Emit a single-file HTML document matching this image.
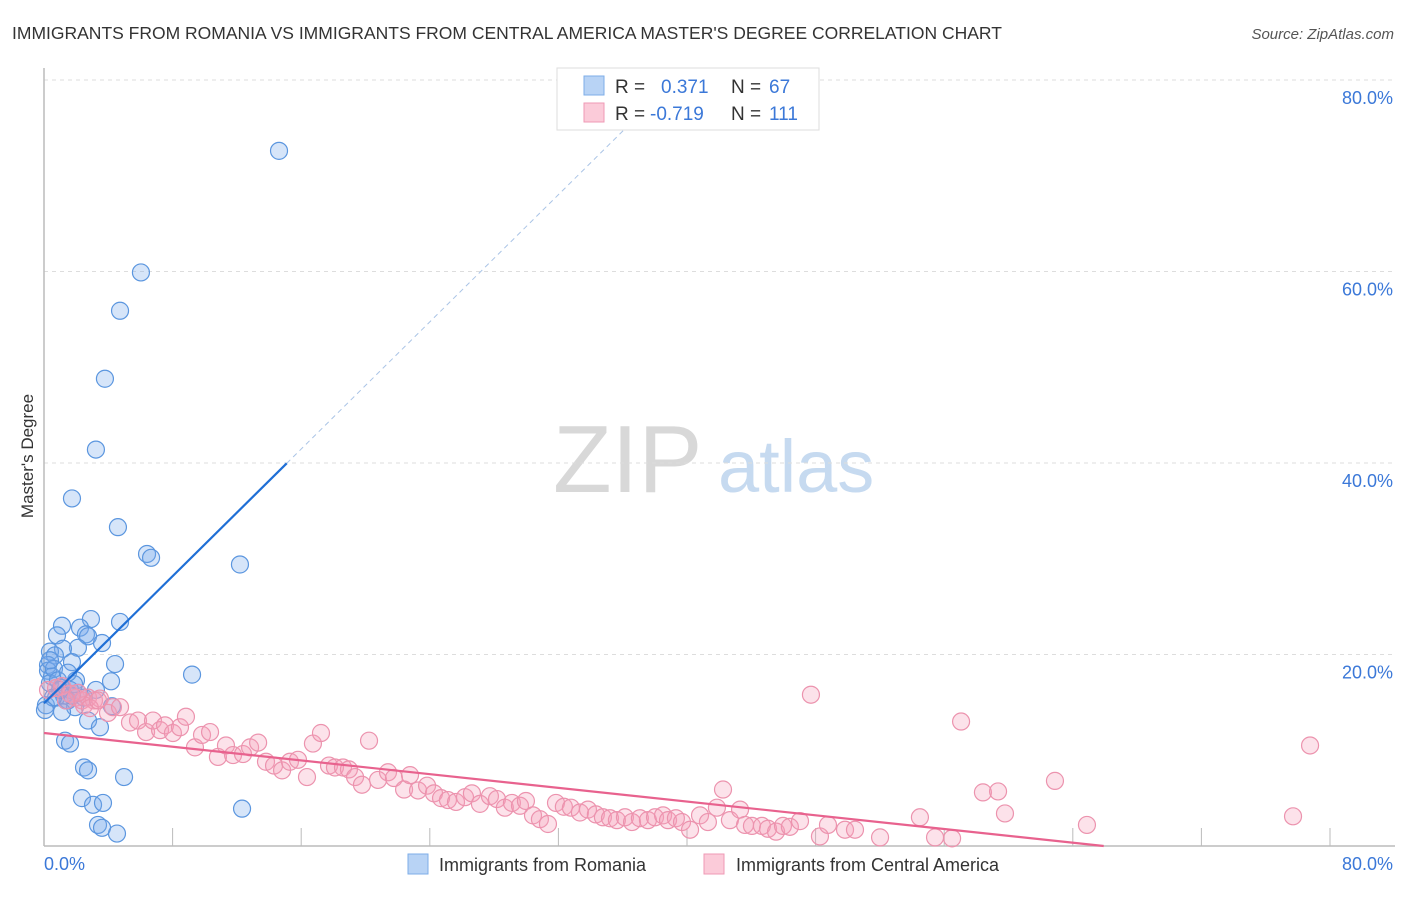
<!DOCTYPE html>
<html><head><meta charset="utf-8"><style>
body{margin:0;background:#fff;font-family:"Liberation Sans",sans-serif;}
svg text{font-family:"Liberation Sans",sans-serif;}
</style></head><body>
<svg id="chart" width="1406" height="892" xmlns="http://www.w3.org/2000/svg">
<text x="12" y="39" font-size="17.5" fill="#333">IMMIGRANTS FROM ROMANIA VS IMMIGRANTS FROM CENTRAL AMERICA MASTER'S DEGREE CORRELATION CHART</text>
<text x="1394" y="39" font-size="15" fill="#555" text-anchor="end" font-style="italic">Source: ZipAtlas.com</text>
<g>
<text x="553" y="492" font-size="96" fill="#d8d8d8" font-family="Liberation Serif,serif">ZIP</text>
<text x="718" y="492" font-size="74" fill="#c6daf0">atlas</text>
</g>
<g id="grid"></g>
<g id="axes"></g>
<text transform="translate(33,456) rotate(-90)" font-size="17" fill="#333" text-anchor="middle">Master's Degree</text>
<g id="series-blue"></g>
<g id="series-pink"></g>
<g id="trends"></g>
<g>
<rect x="557" y="68" width="262" height="62" fill="#fff" stroke="#ddd"/>
<rect x="584" y="76" width="20" height="19" fill="#b8d3f5" stroke="#7eaee8"/>
<rect x="584" y="103" width="20" height="19" fill="#fbcbd9" stroke="#ef9ab5"/>
<text x="615" y="93" font-size="19" fill="#333">R =</text>
<text x="661" y="93" font-size="19" fill="#3b78d8">0.371</text>
<text x="731" y="93" font-size="19" fill="#333">N =</text>
<text x="769" y="93" font-size="19" fill="#3b78d8">67</text>
<text x="615" y="120" font-size="19" fill="#333">R =</text>
<text x="650" y="120" font-size="19" fill="#3b78d8">-0.719</text>
<text x="731" y="120" font-size="19" fill="#333">N =</text>
<text x="769" y="120" font-size="19" fill="#3b78d8">111</text>
</g>
<g>
<rect x="408" y="854" width="20" height="20" fill="#b8d3f5" stroke="#7eaee8"/>
<text x="439" y="871" font-size="18" fill="#333">Immigrants from Romania</text>
<rect x="704" y="854" width="20" height="20" fill="#fbcbd9" stroke="#ef9ab5"/>
<text x="736" y="871" font-size="18" fill="#333">Immigrants from Central America</text>
</g>
</svg>
<script>
const yTicks=[20,40,60,80];
const yTickLabels=["20.0%","40.0%","60.0%","80.0%"];
const xTicks=[0,8,16,24,32,40,48,56,64,72,80];
const xEndLabels=["0.0%","80.0%"];
const blueX=[14.62,6.03,4.73,3.79,3.23,1.74,4.60,6.41,6.66,12.19,9.21,4.73,2.92,1.12,0.81,2.24,2.61,2.74,3.61,2.11,1.18,0.37,0.68,1.74,0.25,4.42,0.25,0.50,1.99,4.17,0.37,1.12,1.62,2.11,1.24,2.49,1.49,1.93,4.23,1.12,2.74,3.48,1.31,1.62,2.49,2.74,4.98,2.36,3.05,3.67,3.36,3.61,4.54,12.32,0.12,0.75,1.37,1.74,1.00,0.62,0.37,0.87,1.87,1.49,3.23,0.56,0.06];
const blueY=[72.6,59.9,55.9,48.8,41.4,36.3,33.3,30.5,30.1,29.4,17.9,23.4,23.7,23.0,22.0,22.8,22.1,21.9,21.2,20.7,20.6,20.3,19.9,19.2,18.9,19.0,18.3,17.7,17.3,17.2,17.0,16.5,16.3,16.0,15.7,15.5,15.2,14.5,14.6,14.0,13.1,12.4,11.0,10.7,8.2,7.9,7.2,5.0,4.3,4.5,2.2,1.9,1.3,3.9,14.7,15.5,15.2,15.7,16.3,18.5,19.4,17.3,16.9,18.1,16.3,15.5,14.2];
const pinkX=[0.25,0.75,1.12,1.62,1.99,2.36,2.74,3.11,3.48,2.49,2.11,2.86,1.37,3.98,4.29,4.73,3.36,5.35,5.85,6.35,6.78,7.22,7.53,8.02,8.46,8.83,9.39,9.83,10.33,10.82,11.32,11.76,12.38,12.82,13.32,13.81,14.31,14.81,15.30,15.80,16.36,16.73,17.23,17.73,18.10,18.60,18.97,19.35,19.78,20.22,20.78,21.40,21.77,22.40,22.77,23.27,23.83,24.26,24.70,25.13,25.63,26.19,26.62,27.12,27.74,28.18,28.67,29.11,29.61,29.98,30.42,30.85,31.35,31.85,32.34,32.78,33.34,33.84,34.33,34.77,35.21,35.64,36.14,36.58,37.07,37.57,38.01,38.51,38.82,39.31,39.69,40.19,40.81,41.30,41.86,42.24,42.67,43.30,43.61,44.04,44.66,45.04,45.54,45.97,46.40,47.03,47.71,48.27,48.77,49.83,50.45,52.01,54.49,55.43,56.49,57.05,58.41,59.35,59.78,62.89,64.88,77.70,78.76];
const pinkY=[16.3,16.5,16.7,15.9,15.5,15.2,15.5,15.2,15.4,14.7,16.0,14.4,15.2,13.9,14.5,14.5,15.2,12.9,13.1,11.9,13.1,12.1,12.6,11.8,12.4,13.5,10.3,11.6,11.9,9.3,10.5,9.5,9.6,10.3,10.8,8.8,8.4,7.9,8.8,9.0,7.2,10.7,11.8,8.4,8.2,8.2,8.0,7.2,6.4,11.0,6.9,7.7,7.1,5.9,7.4,5.8,6.3,5.5,5.0,4.8,4.6,5.1,5.5,4.4,5.2,4.9,4.0,4.5,4.2,4.7,3.2,2.8,2.3,4.5,4.1,4.0,3.5,3.8,3.3,3.0,2.9,2.7,3.0,2.5,2.9,2.7,3.0,3.2,2.7,2.9,2.5,1.7,3.2,2.5,4.0,5.9,2.7,3.8,2.2,2.1,2.1,1.8,1.5,2.1,2.0,2.6,15.8,1.0,2.2,1.7,1.7,0.9,3.0,0.9,0.8,13.0,5.6,5.7,3.4,6.8,2.2,3.1,10.5];
const blueTrend=[14.9,1.66];
const pinkTrend=[11.8,-0.179];
const blueSolidEnd=15.1;

const X0=44,XPX=1330,Y0=846,YPX=80;
const sx=v=>X0+(XPX-X0)*v/80;
const sy=v=>Y0-(Y0-YPX)*v/80;
const NS="http://www.w3.org/2000/svg";
function mk(tag,attrs,parent){const e=document.createElementNS(NS,tag);for(const k in attrs)e.setAttribute(k,attrs[k]);parent.appendChild(e);return e;}
const grid=document.getElementById('grid'),axes=document.getElementById('axes');
yTicks.forEach((t,i)=>{
 const l=mk('line',{x1:44,x2:1395,y1:sy(t),y2:sy(t),stroke:'#ddd','stroke-dasharray':'4,4'},grid);
 
 
 const tx=mk('text',{x:1393,y:sy(t)+24,'font-size':18,fill:'#3b78d8','text-anchor':'end'},axes);
 tx.textContent=yTickLabels[i];
 
 
});
const al=mk('line',{x1:44,x2:44,y1:68,y2:846,stroke:'#bbb','stroke-width':1.5},axes);


const bl=mk('line',{x1:44,x2:1395,y1:846,y2:846,stroke:'#bbb','stroke-width':1.5},axes);


xTicks.forEach(t=>{
 const l=mk('line',{x1:sx(t),x2:sx(t),y1:828,y2:846,stroke:'#bbb'},axes);
 
 
});
const xl0=mk('text',{x:44,y:870,'font-size':18,fill:'#3b78d8'},axes);xl0.textContent=xEndLabels[0];


const xl1=mk('text',{x:1393,y:870,'font-size':18,fill:'#3b78d8','text-anchor':'end'},axes);xl1.textContent=xEndLabels[1];


const gb=document.getElementById('series-blue');
blueX.forEach((x,i)=>{
 const c=mk('circle',{cx:sx(x),cy:sy(blueY[i]),r:8.5,fill:'rgba(120,170,235,0.3)',stroke:'#5b96df','stroke-width':1.2},gb);
 
 
});
const gp=document.getElementById('series-pink');
pinkX.forEach((x,i)=>{
 const c=mk('circle',{cx:sx(x),cy:sy(pinkY[i]),r:8.5,fill:'rgba(245,160,185,0.3)',stroke:'#ec93ae','stroke-width':1.2},gp);
 
 
});
const gt=document.getElementById('trends');
const bEndDash=(80-blueTrend[0])/blueTrend[1];
const t1=mk('line',{x1:sx(0),y1:sy(blueTrend[0]),x2:sx(blueSolidEnd),y2:sy(blueTrend[0]+blueTrend[1]*blueSolidEnd),stroke:'#1f6fd6','stroke-width':2.2},gt);


const t2=mk('line',{x1:sx(blueSolidEnd),y1:sy(blueTrend[0]+blueTrend[1]*blueSolidEnd),x2:sx(bEndDash),y2:sy(80),stroke:'#aac4e6','stroke-width':1,'stroke-dasharray':'5,4'},gt);


const pEnd=-pinkTrend[0]/pinkTrend[1];
const t3=mk('line',{x1:sx(0),y1:sy(pinkTrend[0]),x2:sx(pEnd),y2:sy(0),stroke:'#e8628e','stroke-width':2.2},gt);


</script>
</body></html>
